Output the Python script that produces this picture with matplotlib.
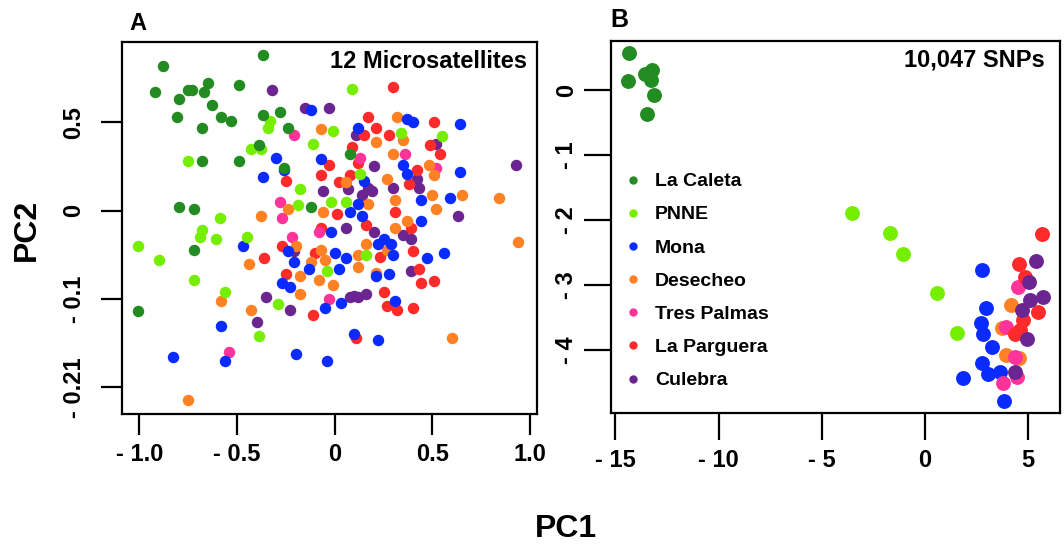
import matplotlib.pyplot as plt
from matplotlib.lines import Line2D

plt.rcParams["font.family"] = ["Liberation Sans", "DejaVu Sans"]
plt.rcParams["font.weight"] = "bold"

POPULATIONS = ["La Caleta", "PNNE", "Mona", "Desecheo", "Tres Palmas", "La Parguera", "Culebra"]
COLORS = ["#228B22", "#76EE00", "#0A2BFF", "#FF8124", "#FF3399", "#FF2A2A", "#6A2590"]

# ---- panel A: 12 microsatellites (PC1, PC2) ----
caleta_a_x = [-0.88, -0.92, -0.80, -0.75, -0.73, -0.65, -0.67, -0.63, -0.58, -0.53, -0.81, -0.68, -0.49,
              -0.37, -0.37, -0.28, -0.24, -0.39, -0.68, -0.49, -0.26, -0.80, -0.72, -0.12, 0.08, -0.72, -1.01]
caleta_a_y = [0.82, 0.67, 0.63, 0.68, 0.68, 0.72, 0.67, 0.60, 0.53, 0.51, 0.53, 0.47, 0.71,
              0.88, 0.54, 0.56, 0.47, 0.37, 0.28, 0.28, 0.24, 0.02, 0.01, 0.02, 0.32, -0.22, -0.57]

pnne_a_x = [-0.33, -0.34, -0.43, -0.38, -0.11, -0.75, -0.18, -0.19, -0.59, 0.09, -0.01, 0.34, 0.55, 0.13,
            -0.02, 0.06, -0.68, -0.69, -0.61, -1.01, -0.90, -0.72, -0.56, -0.45, -0.29, -0.39, 0.16, -0.04]
pnne_a_y = [0.51, 0.47, 0.35, 0.35, 0.38, 0.28, 0.12, 0.03, -0.04, 0.69, 0.45, 0.44, 0.42, 0.21,
            0.05, 0.05, -0.11, -0.15, -0.16, -0.20, -0.28, -0.39, -0.46, -0.15, -0.53, -0.71, -0.25, -0.34]

mona_a_x = [-0.12, -0.30, -0.37, -0.26, 0.37, 0.40, 0.64, 0.12, -0.07, 0.35, 0.37, 0.64, 0.44, 0.15,
            0.12, 0.59, 0.08, 0.14, -0.47, -0.58, -0.83, -0.56, -0.20, -0.27, -0.23, -0.21, -0.13, -0.24,
            0.44, -0.02, 0.00, 0.06, 0.25, 0.22, 0.29, 0.47, 0.56, 0.30, 0.02, 0.21, 0.28, 0.31, -0.05,
            0.03, 0.10, 0.22, -0.04]
mona_a_y = [0.57, 0.30, 0.19, 0.23, 0.52, 0.50, 0.49, 0.47, 0.29, 0.26, 0.21, 0.22, 0.06, 0.17,
            0.04, 0.07, -0.01, -0.03, -0.20, -0.65, -0.83, -0.85, -0.81, -0.41, -0.43, -0.29, -0.33, -0.23,
            -0.06, -0.12, -0.24, -0.27, -0.16, -0.19, -0.19, -0.27, -0.24, -0.25, -0.33, -0.37, -0.36, -0.51,
            -0.55, -0.52, -0.70, -0.73, -0.85]

desecheo_a_x = [-0.24, -0.38, 0.32, -0.07, 0.21, 0.35, 0.30, 0.48, 0.51, 0.27, 0.06, 0.31, 0.50, 0.65,
                0.84, 0.52, -0.06, 0.17, -0.44, -0.58, -0.43, -0.18, -0.18, -0.75, -0.20, -0.12, -0.07,
                -0.05, 0.12, 0.12, 0.27, 0.31, 0.37, 0.16, -0.08, -0.01, 0.21, 0.60, 0.94]
desecheo_a_y = [0.01, -0.03, 0.53, 0.46, 0.39, 0.40, 0.32, 0.26, 0.20, 0.18, 0.16, 0.06, 0.09, 0.09,
                0.07, 0.01, -0.01, 0.04, -0.30, -0.51, -0.56, -0.47, -0.37, -1.07, -0.20, -0.29, -0.22,
                -0.28, -0.25, -0.32, -0.22, -0.10, -0.06, -0.19, -0.39, -0.42, -0.35, -0.72, -0.18]

trespalmas_a_x = [-0.21, -0.28, -0.27, 0.36, 0.13, 0.52, -0.22, -0.54, -0.03, -0.08]
trespalmas_a_y = [0.43, 0.05, -0.04, 0.32, 0.30, 0.24, -0.15, -0.80, -0.50, -0.12]

parguera_a_x = [-0.25, 0.30, 0.17, 0.51, 0.15, 0.21, 0.28, 0.49, 0.54, 0.09, -0.03, 0.12, -0.07, 0.42,
                0.08, 0.38, 0.02, 0.31, 0.01, -0.36, -0.27, -0.25, -0.11, -0.07, 0.40, 0.23, 0.43, 0.44,
                0.51, 0.25, 0.27, 0.32, 0.40, 0.11, 0.16, 0.39, -0.10]
parguera_a_y = [0.17, 0.70, 0.53, 0.50, 0.43, 0.47, 0.43, 0.37, 0.32, 0.36, 0.26, 0.27, 0.20, 0.23,
                0.20, 0.15, 0.16, -0.01, -0.02, -0.27, -0.20, -0.36, -0.59, -0.10, -0.23, -0.26, -0.33, -0.41,
                -0.40, -0.46, -0.54, -0.56, -0.55, -0.72, -0.08, -0.10, -0.24]

culebra_a_x = [-0.32, -0.15, -0.03, 0.11, 0.52, 0.20, 0.93, 0.30, 0.42, 0.43, 0.17, 0.19, 0.14, 0.07,
               -0.06, 0.63, -0.21, -0.35, -0.23, -0.40, 0.06, 0.20, 0.35, 0.39, 0.39, 0.08, 0.12, 0.16, 0.10]
culebra_a_y = [0.68, 0.58, 0.58, 0.43, 0.38, 0.25, 0.26, 0.13, 0.18, 0.13, 0.13, 0.11, 0.09, 0.12,
               0.11, -0.03, -0.23, -0.49, -0.56, -0.63, -0.10, -0.12, -0.14, -0.16, -0.34, -0.49, -0.49, -0.47, -0.48]

msat_xticks = [-1.0, -0.5, 0.0, 0.5, 1.0]
msat_xticklabels = ["- 1.0", "- 0.5", "0", "0.5", "1.0"]
msat_yticks = [-1.0, -0.5, 0.0, 0.5]
msat_yticklabels = ["- 0.21", "- 0.1", "0", "0.5"]

# ---- panel B: 10,047 SNPs ----
caleta_b_x = [-14.33, -14.41, -13.57, -13.24, -13.29, -13.11, -13.48]
caleta_b_y = [0.57, 0.15, 0.26, 0.32, 0.16, -0.07, -0.36]

pnne_b_x = [-3.55, -1.70, -1.05, 0.57, 1.57]
pnne_b_y = [-1.89, -2.20, -2.52, -3.12, -3.74]

mona_b_x = [2.78, 2.96, 2.70, 2.82, 3.23, 2.75, 3.07, 3.63, 1.86, 3.83]
mona_b_y = [-2.77, -3.35, -3.59, -3.75, -3.96, -4.21, -4.38, -4.34, -4.43, -4.79]

desecheo_b_x = [4.17, 3.71, 3.92, 4.57]
desecheo_b_y = [-3.31, -3.66, -4.08, -4.12]

trespalmas_b_x = [4.52, 3.92, 4.36, 4.44, 3.79]
trespalmas_b_y = [-3.03, -3.65, -4.11, -4.42, -4.52]

parguera_b_x = [5.65, 4.57, 4.84, 5.49, 4.76, 4.36, 4.60]
parguera_b_y = [-2.22, -2.68, -2.87, -3.41, -3.54, -3.75, -3.70]

culebra_b_x = [5.38, 5.05, 5.73, 5.09, 4.68, 4.93, 4.36]
culebra_b_y = [-2.63, -2.95, -3.19, -3.23, -3.39, -3.83, -4.34]

snp_xticks = [-15, -10, -5, 0, 5]
snp_xticklabels = ["- 15", "- 10", "- 5", "0", "5"]
snp_yticks = [0, -1, -2, -3, -4]
snp_yticklabels = ["0", "- 1", "- 2", "- 3", "- 4"]

W, H = 1064, 548


def px_rect(left, top, right, bottom):
    return [left / W, 1 - bottom / H, (right - left) / W, (bottom - top) / H]


def style_axes(ax, tick_len):
    for side in ax.spines.values():
        side.set_linewidth(1.6)
        side.set_color("black")
    ax.tick_params(direction="out", length=tick_len, width=1.6, labelsize=17, pad=6)


fig = plt.figure(figsize=(W / 100, H / 100), dpi=100)

# panel A
ax_a = fig.add_axes(px_rect(121.7, 41.7, 536.7, 414.3))
msat_x = [caleta_a_x, pnne_a_x, mona_a_x, desecheo_a_x, trespalmas_a_x, parguera_a_x, culebra_a_x]
msat_y = [caleta_a_y, pnne_a_y, mona_a_y, desecheo_a_y, trespalmas_a_y, parguera_a_y, culebra_a_y]
for xs, ys, color in reversed(list(zip(msat_x, msat_y, COLORS))):
    ax_a.scatter(xs, ys, s=68, color=color, linewidths=0)
ax_a.set_xlim(-1.091, 1.034)
ax_a.set_ylim(-1.152, 0.956)
ax_a.set_xticks(msat_xticks, msat_xticklabels)
ax_a.set_yticks(msat_yticks, msat_yticklabels, rotation=90, va="center")
style_axes(ax_a, 15)
ax_a.tick_params(axis="y", pad=11)
ax_a.text(0.977, 0.948, "12 Microsatellites", transform=ax_a.transAxes,
          ha="right", va="center", fontsize=17, fontweight="bold")

# panel B
ax_b = fig.add_axes(px_rect(610.7, 40.7, 1060, 413.3))
snp_x = [caleta_b_x, pnne_b_x, mona_b_x, desecheo_b_x, trespalmas_b_x, parguera_b_x, culebra_b_x]
snp_y = [caleta_b_y, pnne_b_y, mona_b_y, desecheo_b_y, trespalmas_b_y, parguera_b_y, culebra_b_y]
for xs, ys, color in zip(snp_x, snp_y, COLORS):
    ax_b.scatter(xs, ys, s=115, color=color, linewidths=0)
ax_b.set_xlim(-15.23, 6.54)
ax_b.set_ylim(-4.98, 0.767)
ax_b.set_xticks(snp_xticks, snp_xticklabels)
ax_b.set_yticks(snp_yticks, snp_yticklabels, rotation=90, va="center")
style_axes(ax_b, 19.5)
ax_b.tick_params(axis="y", pad=4)
ax_b.text(0.9666, 0.948, "10,047 SNPs", transform=ax_b.transAxes,
          ha="right", va="center", fontsize=17, fontweight="bold")

handles = [Line2D([], [], marker="o", linestyle="none", markersize=6, markerfacecolor=c,
                  markeredgewidth=0) for c in COLORS]
ax_b.legend(handles, POPULATIONS, loc="upper left", frameon=False,
            bbox_to_anchor=(623 / W, 1 - 172.7 / H), bbox_transform=fig.transFigure,
            borderpad=0, borderaxespad=0, handlelength=1.0, handletextpad=0.65,
            labelspacing=0.8, prop={"size": 14, "weight": "bold"})

fig.text(138 / W, 1 - 23 / H, "A", ha="center", va="center", fontsize=17, fontweight="bold")
fig.text(619 / W, 1 - 20 / H, "B", ha="center", va="center", fontsize=18, fontweight="bold")
fig.text(27 / W, 1 - 230 / H, "PC2", ha="center", va="center", rotation=90,
         fontsize=23, fontweight="bold")
fig.text(566 / W, 1 - 529 / H, "PC1", ha="center", va="center", fontsize=23, fontweight="bold")

fig.savefig("out.png", dpi=100)
